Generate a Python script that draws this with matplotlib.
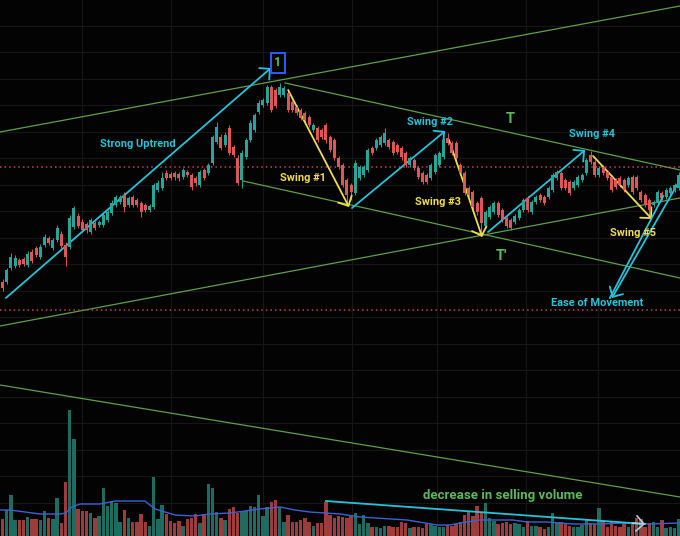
"""Candlestick chart with swing annotations and volume overlay (dark theme)."""
import matplotlib

matplotlib.use("Agg")
import matplotlib.pyplot as plt
import numpy as np

BG = "#030303"
GRID = "#161616"
UP = "#26a69a"
DOWN = "#e05555"
VOL_UP = "#1d6b61"
VOL_DOWN = "#9e3b3b"
CYAN = "#26c3d8"
YELLOW = "#f0dc50"
TREND_GREEN = "#5f9e4a"
TEXT_GREEN = "#5cb85c"
LEVEL_RED = "#b8465a"
MA_BLUE = "#3a62d8"

# --- price bars (one row per session) ---------------------------------
opens = [254, 254, 268, 270, 276, 277, 271, 284, 288, 279, 291, 298, 288, 296, 302, 291,
         289, 309, 320, 314, 312, 304, 313, 311, 311, 316, 323, 331, 334, 341, 331, 339,
         336, 333, 331, 326, 329, 346, 348, 363, 362, 363, 362, 359, 364, 361, 358, 351,
         366, 363, 373, 394, 399, 391, 408, 389, 378, 356, 379, 396, 406, 424, 431, 433,
         449, 446, 441, 441, 443, 434, 429, 426, 423, 419, 406, 408, 406, 411, 399, 396,
         378, 371, 356, 351, 343, 358, 361, 366, 388, 388, 391, 393, 396, 394, 391, 388,
         383, 371, 376, 368, 363, 361, 358, 364, 371, 379, 398, 393, 393, 371, 363, 348,
         344, 333, 338, 310, 319, 324, 333, 326, 318, 316, 314, 318, 326, 338, 324, 334,
         341, 339, 339, 346, 358, 363, 356, 354, 348, 351, 356, 363, 381, 374, 361, 369,
         364, 359, 356, 358, 356, 351, 359, 359, 344, 341, 336, 331, 333, 343, 339, 343,
         346, 348]
closes = [248, 266, 279, 278, 271, 272, 282, 275, 281, 289, 299, 293, 296, 308, 290, 279,
          318, 328, 310, 306, 306, 316, 308, 314, 321, 324, 333, 339, 339, 329, 338, 331,
          331, 324, 326, 330, 351, 353, 358, 358, 358, 359, 358, 366, 361, 349, 353, 364,
          358, 371, 399, 409, 388, 401, 383, 381, 353, 383, 396, 413, 421, 433, 436, 449,
          426, 430, 449, 448, 426, 426, 423, 418, 416, 411, 411, 396, 399, 396, 386, 378,
          369, 351, 341, 344, 373, 369, 369, 386, 383, 396, 399, 403, 389, 383, 384, 379,
          371, 378, 368, 359, 354, 354, 371, 381, 383, 396, 393, 383, 378, 363, 343, 341,
          329, 324, 313, 324, 329, 333, 321, 316, 310, 308, 320, 326, 336, 326, 334, 339,
          336, 333, 348, 361, 364, 348, 348, 343, 354, 359, 361, 376, 374, 361, 368, 363,
          358, 346, 349, 351, 346, 358, 344, 348, 336, 331, 326, 334, 344, 338, 346, 348,
          351, 361]
highs = [257, 268, 283, 281, 278, 279, 285, 287, 290, 292, 302, 300, 298, 311, 305, 294,
         321, 330, 323, 317, 314, 318, 315, 316, 323, 326, 336, 341, 341, 344, 340, 341,
         338, 335, 333, 332, 353, 356, 364, 366, 364, 365, 364, 368, 366, 363, 360, 366,
         368, 373, 401, 414, 402, 404, 411, 391, 381, 386, 398, 416, 423, 436, 438, 451,
         451, 448, 453, 450, 446, 436, 431, 428, 425, 421, 413, 410, 408, 413, 401, 398,
         380, 373, 358, 353, 376, 371, 371, 388, 390, 398, 401, 408, 398, 396, 393, 390,
         385, 380, 378, 370, 365, 363, 373, 383, 385, 398, 403, 395, 395, 373, 365, 350,
         346, 335, 340, 326, 331, 335, 335, 328, 320, 318, 322, 328, 338, 340, 336, 341,
         343, 341, 350, 363, 366, 365, 358, 356, 356, 361, 363, 378, 385, 376, 370, 371,
         366, 361, 358, 360, 358, 360, 361, 361, 346, 343, 338, 336, 346, 345, 348, 350,
         353, 364]
lows = [245, 252, 266, 268, 269, 270, 269, 273, 279, 277, 289, 291, 286, 294, 288, 270,
        287, 307, 308, 304, 303, 302, 306, 309, 309, 314, 321, 329, 332, 324, 329, 329,
        329, 319, 324, 324, 327, 344, 346, 356, 356, 356, 355, 357, 359, 346, 350, 349,
        356, 361, 371, 392, 386, 389, 381, 379, 351, 348, 377, 394, 404, 422, 429, 431,
        424, 428, 439, 439, 424, 424, 421, 416, 414, 409, 404, 394, 397, 393, 384, 376,
        367, 349, 331, 336, 341, 356, 359, 364, 381, 386, 389, 391, 387, 381, 382, 376,
        369, 369, 366, 357, 352, 352, 356, 362, 369, 377, 391, 381, 376, 361, 341, 339,
        327, 321, 301, 308, 317, 322, 319, 314, 308, 306, 312, 316, 324, 324, 322, 332,
        334, 331, 337, 344, 356, 346, 346, 341, 346, 349, 354, 361, 372, 359, 359, 361,
        356, 344, 347, 349, 344, 349, 342, 346, 334, 329, 321, 329, 331, 336, 337, 341,
        344, 346]

# --- volume per session -----------------------------------------------
volumes = [17, 26, 41, 16, 16, 16, 19, 17, 17, 16, 25, 18, 17, 38, 13, 54,
           126, 97, 27, 25, 25, 23, 18, 20, 48, 30, 34, 33, 14, 26, 18, 14,
           14, 22, 14, 10, 59, 17, 31, 22, 15, 13, 15, 10, 17, 18, 22, 13,
           22, 52, 48, 24, 18, 16, 27, 29, 23, 25, 25, 30, 29, 41, 20, 29,
           34, 36, 29, 14, 21, 14, 14, 16, 18, 14, 10, 13, 13, 34, 21, 18,
           20, 19, 18, 20, 23, 12, 21, 13, 9, 9, 8, 10, 10, 9, 9, 14,
           13, 8, 9, 9, 8, 12, 12, 10, 9, 9, 11, 10, 12, 14, 21, 24,
           20, 30, 23, 33, 18, 15, 12, 13, 14, 12, 13, 12, 9, 15, 10, 10,
           9, 7, 9, 23, 13, 14, 13, 10, 9, 9, 11, 17, 13, 12, 28, 15,
           9, 14, 10, 9, 13, 9, 13, 18, 17, 9, 13, 14, 9, 16, 8, 9,
           8, 17]

# volume moving-average line as it reads off the chart
ma_x = [-0.6, 1.8, 5.4, 8.9, 13.7, 15.1, 16.5, 18.5, 23.2, 26.8, 33.9, 36.3, 41.1, 45.8,
        49.4, 54.2, 61.3, 66.1, 69.6, 73.2, 80.4, 85.1, 96.3, 103.5, 106.5, 108.9, 113.7,
        121.5, 124.9, 129.6, 135.8, 142.3, 147.7, 154.2, 161.3]
ma_vol = [26, 26, 24, 22, 22, 23, 29, 32, 32, 35, 35, 27, 21, 20, 22, 23, 27, 29, 26, 24,
          22, 19, 16, 11, 11, 13, 16, 16, 14, 14, 12, 12, 13, 12, 13]

# --- drawings: (bar, price) pairs -------------------------------------
channel_lines = [  # green trend lines
    ((-0.6, 404), (161.3, 530)),
    ((-0.6, 210), (161.3, 338)),
    ((67.3, 453), (161.3, 366)),
    ((57.3, 355), (161.3, 258)),
    ((-0.6, 151), (161.3, 39)),
]
levels = [369, 226]  # red dotted horizontals

cyan_arrows = [
    ((0.8, 238), (63.9, 468)),    # strong uptrend
    ((83.2, 328), (105.4, 405)),  # swing 2
    ((115.6, 304), (138.7, 386)),  # swing 4
    ((160.6, 351), (145.1, 238)),  # ease of movement
]
eom_second = ((157.3, 340), (144.6, 238))
yellow_arrows = [
    ((68.0, 446), (82.5, 329)),   # swing 1
    ((106.3, 396), (114.2, 299)),  # swing 3
    ((140.6, 380), (154.6, 317)),  # swing 5
]
labels = [
    ("Strong Uptrend", 32.3, 392, CYAN),
    ("Swing #1", 71.5, 358, YELLOW),
    ("Swing #2", 101.8, 414, CYAN),
    ("Swing #3", 103.7, 334, YELLOW),
    ("Swing #4", 140.4, 402, CYAN),
    ("Swing #5", 150.1, 303, YELLOW),
    ("Ease of Movement", 141.5, 233, CYAN),
]
vol_arrow = ((77.0, 35), (153.0, 12))

x_grid = [18.9, 40.1, 62.0, 83.2, 103.5, 124.6, 141.8]
y_grid = [7, 33.5, 60, 86.5, 113, 139.5, 166, 192.5, 219, 245.5, 272, 298.5, 325,
          351.5, 378, 404.5, 431, 457.5, 484, 510.5]

FONT = ["Roboto", "DejaVu Sans"]


def arrow(ax, start, end, color, lw=1.3):
    ax.annotate("", xy=end, xytext=start,
                arrowprops=dict(arrowstyle="->,head_length=0.55,head_width=0.55",
                                color=color, lw=lw, shrinkA=0, shrinkB=0))


def main() -> None:
    fig = plt.figure(figsize=(6.8, 5.36), dpi=100, facecolor=BG)
    ax = fig.add_axes([0, 0, 1, 1], facecolor=BG)
    ax.set_xlim(-0.6, 161.3)
    ax.set_ylim(0, 536)
    ax.set_xticks(x_grid)
    ax.set_yticks(y_grid)
    ax.grid(True, color=GRID, lw=0.8)
    ax.tick_params(length=0, labelbottom=False, labelleft=False)
    for s in ax.spines.values():
        s.set_visible(False)

    idx = np.arange(len(opens))
    o = np.array(opens)
    c = np.array(closes)
    up = c >= o
    colors = np.where(up, UP, DOWN)

    # --- candles ---
    ax.vlines(idx, lows, highs, colors=colors, lw=0.7, zorder=3)
    ax.bar(idx, np.abs(c - o) + 0.8, bottom=np.minimum(o, c) - 0.4, width=0.7,
           color=colors, zorder=4)

    # --- trend lines and levels ---
    for (x0, y0), (x1, y1) in channel_lines:
        ax.plot([x0, x1], [y0, y1], color=TREND_GREEN, lw=0.9, zorder=2)
    for lv in levels:
        ax.axhline(lv, color=LEVEL_RED, lw=1.1, ls=(0, (1, 2)), zorder=2)

    for start, end in cyan_arrows:
        arrow(ax, start, end, CYAN)
    ax.plot([eom_second[0][0], eom_second[1][0]], [eom_second[0][1], eom_second[1][1]],
            color=CYAN, lw=1.3, zorder=5)
    for start, end in yellow_arrows:
        arrow(ax, start, end, YELLOW)

    for text, x, y, col in labels:
        ax.text(x, y, text, color=col, fontsize=7.9, fontweight="bold",
                ha="center", va="center", family=FONT, zorder=6)
    ax.text(120.8, 417, "T", color=TEXT_GREEN, fontsize=10.5, fontweight="bold",
            ha="center", va="center", family=FONT)
    ax.text(118.9, 280, "T'", color=TEXT_GREEN, fontsize=10.5, fontweight="bold",
            ha="center", va="center", family=FONT)
    ax.text(65.6, 473, "1", color=TEXT_GREEN, fontsize=9, fontweight="bold",
            ha="center", va="center", family=FONT,
            bbox=dict(boxstyle="square,pad=0.3", fc="none", ec="#2f5bff", lw=1.4))

    # --- volume overlay ---
    axv = ax.twinx()
    axv.set_ylim(0, 536)
    axv.set_xlim(-0.6, 161.3)
    axv.axis("off")
    vcol = np.where(up, VOL_UP, VOL_DOWN)
    axv.bar(idx, volumes, width=0.8, color=vcol, zorder=1)
    axv.plot(ma_x, ma_vol, color=MA_BLUE, lw=1.0, zorder=2)
    axv.plot([vol_arrow[0][0], vol_arrow[1][0]], [vol_arrow[0][1], vol_arrow[1][1]],
             color=CYAN, lw=1.3, zorder=3)
    axv.annotate("", xy=vol_arrow[1], xytext=(vol_arrow[1][0] - 3, vol_arrow[1][1] + 0.9),
                 arrowprops=dict(arrowstyle="->,head_length=0.55,head_width=0.55",
                                 color="#9fd6e0", lw=1.2, shrinkA=0, shrinkB=0))
    axv.text(119.2, 41, "decrease in selling volume", color=TEXT_GREEN, fontsize=9.5,
             fontweight="bold", ha="center", va="center", family=FONT, zorder=4)

    fig.savefig("out.png", dpi=100, facecolor=BG)


if __name__ == "__main__":
    main()
